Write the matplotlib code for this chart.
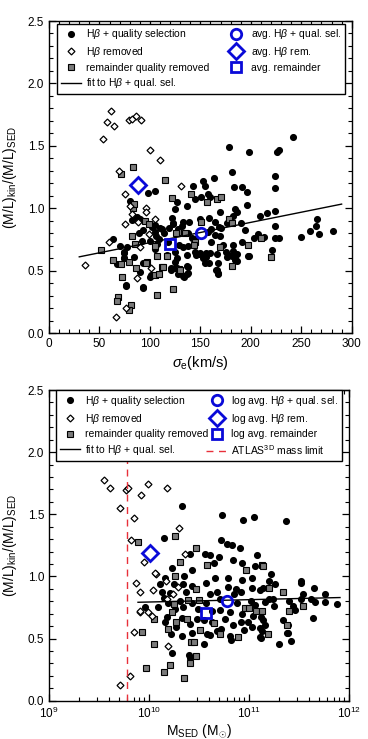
import matplotlib
matplotlib.use('Agg')
from matplotlib import pyplot as plt
from matplotlib.lines import Line2D
from matplotlib.ticker import MultipleLocator, LogLocator, NullFormatter

plt.rcParams['font.family'] = ['Liberation Sans', 'DejaVu Sans']
plt.rcParams['mathtext.fontset'] = 'custom'
plt.rcParams['mathtext.rm'] = 'Liberation Sans'
plt.rcParams['mathtext.it'] = 'Liberation Sans:italic'

# ---- top panel: sigma_e vs M/L ratio ----
top_hb_sig = [98, 105, 80, 81, 63, 70, 77, 74, 74, 67, 76, 93, 100, 89, 92, 100, 105, 90, 100,
              82, 87, 93, 102, 110, 106, 123, 133, 150,
              178, 198, 181, 164, 152.5, 154.5, 142.6, 145, 151, 157.7, 159.7, 183.5, 191.5, 196,
              196.7, 184.8, 186.2, 127.3, 137.2, 124.7, 122, 118.7, 131.9, 139.2, 159, 165, 169.6,
              182.8, 180.8, 170.3, 176.3, 190.2, 194.1, 202.7, 207.3, 198.1, 190.8, 182.2, 182.8,
              186.8, 184.2, 175.6, 176.3, 172.9, 169, 166.3, 166.3, 167.6, 160.4, 155.7, 153.1,
              155.1, 148.5, 144.5, 157.7, 164.4, 169.6, 160.4, 168.4, 137.9, 141.9, 144.5, 137.9,
              132.6, 136.6, 124.7, 124.7, 121.4, 129.3, 133.2, 136.6, 137.9, 128.7, 124.7, 126.7,
              118, 114.1, 112.1, 109.4, 104.9, 107.4, 105.5, 128, 122.7,
              242, 227.5, 226.2, 223.5, 223.5, 223.5, 216.3, 209.6, 224.2, 213, 224.2, 227.5,
              220.9, 250, 258.6, 264.6, 265.9, 267.9, 281.1,
              76.8, 92.7, 74.1, 74.1, 84, 93.3, 90, 100.6, 106.5, 116.5, 121.4, 126.4, 128, 133.6,
              137.9, 136.3, 145.5, 149.5, 156, 158.7, 160, 167.7, 166, 167, 177.6, 184, 186, 181,
              197.4]
top_hb_ml = [1.12, 1.14, 1.06, 1.02, 0.75, 0.70, 0.69, 0.65, 0.60, 0.55, 0.38, 0.36, 0.45, 0.80,
             0.74, 0.74, 0.81, 0.91, 0.87,
             0.905, 0.93, 0.825, 0.85, 0.84, 0.78, 0.88, 0.89, 0.91,
             1.49, 1.45, 1.29, 1.245, 1.22, 1.18, 1.18, 1.074, 1.09, 1.116, 1.09, 1.17, 1.17, 1.127,
             1.026, 0.994, 0.968, 1.047, 1.016, 0.99, 0.919, 0.844, 0.855, 0.89, 0.92, 0.89, 0.968,
             0.935, 0.89, 0.839, 0.88, 0.88, 0.823, 0.764, 0.79, 0.614, 0.731, 0.709, 0.657,
             0.636, 0.588, 0.65, 0.61, 0.709, 0.69, 0.636, 0.507, 0.475, 0.73, 0.645, 0.60,
             0.562, 0.63, 0.65, 0.807, 0.786, 0.775, 0.83, 0.85, 0.80, 0.763, 0.75, 0.70,
             0.69, 0.625, 0.57, 0.518, 0.507, 0.491, 0.454, 0.475, 0.528, 0.705, 0.65, 0.60,
             0.73, 0.80, 0.83, 0.757, 0.866, 0.716, 0.67, 0.83, 0.87,
             1.57, 1.469, 1.453, 1.261, 1.165, 0.978, 0.96, 0.94, 0.855, 0.769, 0.759, 0.764,
             0.668, 0.77, 0.817, 0.855, 0.913, 0.796, 0.817,
             0.385, 0.366, 0.64, 0.60, 0.61, 0.558, 0.49, 0.465, 0.465, 0.625, 0.518, 0.518, 0.47,
             0.451, 0.478, 0.537, 0.625, 0.638, 0.61, 0.558, 0.64, 0.563, 0.505, 0.478, 0.625,
             0.60, 0.58, 0.62, 0.617]

top_rem_sig = [61.9, 57.9, 64.5, 53.3, 79, 82.4, 86.3, 91, 100, 110, 69, 75.8, 80.4, 82.3, 96.3,
               96.3, 75.8, 59.9, 35.4, 87, 76.4, 66.5, 99, 105.5, 88.4, 131, 90, 100.7]
top_rem_ml = [1.78, 1.69, 1.66, 1.555, 1.71, 1.715, 1.74, 1.71, 1.47, 1.384, 1.30, 1.11, 1.02,
              0.95, 1.004, 0.97, 0.876, 0.73, 0.545, 0.443, 0.203, 0.128, 0.79, 0.91, 0.887,
              1.18, 0.69, 0.52]

top_qual_sig = [83, 71.3, 52, 63.9, 71.1, 79.7, 72.5, 86.3, 96.9, 104.9, 68.5, 67.8, 81, 79, 82.4,
                95.6, 85, 107.5, 105, 98.9, 83, 84,
                114.8, 122, 141.2, 157, 166.3, 170.3, 150.5, 128, 126, 135.2, 145.1, 143.8,
                178.3, 181.5, 169.6, 181.5, 197.4, 210.6, 117.4, 128.7, 112.1, 109.4, 123.3,
                106.8, 220.4, 96.6, 112.5, 129.6]
top_qual_ml = [1.33, 1.277, 0.663, 0.588, 0.55, 0.566, 0.449, 0.518, 0.571, 0.465, 0.288, 0.256,
               0.224, 0.182, 0.775, 0.897, 0.71, 0.305, 0.70, 0.87, 1.0, 1.03,
               1.223, 1.085, 1.11, 1.052, 1.07, 1.09, 0.89, 0.813, 0.80, 0.80, 0.73, 0.709,
               0.913, 0.88, 0.69, 0.535, 0.709, 0.764, 0.62, 0.51, 0.528, 0.47, 0.353,
               0.62, 0.605, 0.563, 0.53, 0.505]

top_avg_sig = [150.5, 88.4, 120]      # circle, diamond, square
top_avg_ml = [0.80, 1.186, 0.71]
top_fit_sig = [30, 290]
top_fit_coef = [0.5615, 0.001625]

# ---- bottom panel: log M_SED vs M/L ratio ----
bot_hb_logm = [9.96, 10.233, 10.403, 11.303, 11.38,
               10.327, 10.727, 10.94, 11.047, 10.153, 10.72, 10.78, 10.833, 10.907, 10.407,
               10.56, 10.607, 10.7, 10.84, 11.08, 10.233, 10.427, 10.653, 10.933, 11.06, 10.16,
               10.347, 10.66, 10.787, 10.933, 11.033, 10.107, 10.253, 10.34, 10.433, 10.573,
               10.793, 10.873, 11.033, 11.113, 10.127, 10.213, 10.367, 10.613, 10.68, 10.847,
               10.92, 10.153, 10.193, 10.307, 10.427, 10.567, 10.713, 10.88, 11.02, 11.06,
               10.087, 10.26, 10.34, 10.493, 10.627, 10.713, 10.813, 10.933, 11.04, 11.12, 10.18,
               10.327, 10.48, 10.547, 10.627, 10.76, 10.84, 10.92, 10.993, 11.027, 11.113,
               11.113, 10.16, 10.267, 10.407, 10.22, 10.327, 10.427, 10.547, 10.58, 10.613,
               10.68, 10.72, 10.807, 10.82, 10.953, 10.407,
               11.37, 11.217, 11.203, 11.263, 11.137, 11.197, 11.243, 11.163, 11.25, 11.403,
               11.443, 11.457, 11.517, 11.523, 11.543, 11.523, 11.617, 11.65, 11.663, 11.757,
               11.757, 11.883, 11.643, 11.337, 11.137, 11.157, 11.13, 11.123, 11.39, 11.39,
               11.423]
bot_hb_ml = [0.754, 0.386, 0.368, 0.454, 0.547,
             1.569, 1.494, 1.456, 1.476, 1.311, 1.29, 1.263, 1.25, 1.226, 1.183,
             1.18, 1.17, 1.16, 1.13, 1.17, 1.065, 1.05, 1.11, 1.105, 1.08, 0.99,
             1.0, 0.99, 0.99, 0.97, 0.985, 0.942, 0.94, 0.94, 0.92, 0.95,
             0.912, 0.896, 0.905, 0.89, 0.872, 0.868, 0.872, 0.861, 0.877, 0.861,
             0.877, 0.824, 0.79, 0.80, 0.79, 0.79, 0.82, 0.79, 0.80, 0.77,
             0.754, 0.74, 0.75, 0.74, 0.72, 0.727, 0.717, 0.70, 0.684, 0.673, 0.673,
             0.668, 0.657, 0.647, 0.636, 0.657, 0.609, 0.636, 0.636, 0.593, 0.588,
             0.512, 0.63, 0.593, 0.614, 0.539, 0.523, 0.545, 0.459, 0.536, 0.525,
             0.56, 0.576, 0.518, 0.485, 0.57, 0.34,
             1.446, 1.022, 0.96, 0.936, 0.904, 0.818, 0.818, 0.797, 0.759, 0.80,
             0.764, 0.726, 0.966, 0.95, 0.855, 0.818, 0.818, 0.91, 0.797, 0.855,
             0.797, 0.775, 0.668, 0.646, 0.65, 0.61, 0.56, 0.506, 0.609, 0.545,
             0.48]

bot_rem_logm = [9.553, 9.613, 9.767, 9.793, 9.92, 9.993, 9.707, 9.847, 9.82, 9.947, 10.067,
                9.873, 9.913, 10.04, 9.907, 9.993, 9.847, 9.807, 9.707, 10.18, 10.3, 10.36,
                10.06, 10.173, 10.293, 10.24, 10.18, 10.187, 9.91, 10.027]
bot_rem_ml = [1.778, 1.714, 1.693, 1.71, 1.655, 1.741, 1.553, 1.472, 1.295, 1.118, 1.022,
              0.947, 0.872, 0.887, 0.716, 0.716, 0.55, 0.201, 0.126, 1.709, 1.387, 1.178,
              1.025, 0.963, 0.915, 0.856, 0.82, 0.442, 0.72, 0.68]

bot_qual_logm = [9.893, 9.933, 10.053, 10.047, 9.973, 10.26, 10.473, 10.313, 10.26, 10.58,
                 10.973, 11.133, 10.473, 10.393, 10.247, 10.5, 10.653, 10.507, 10.42, 10.45,
                 10.467, 10.407, 10.207, 10.153, 10.347, 10.893, 10.707, 10.227, 10.273,
                 10.193, 10.38, 10.96, 11.0, 11.067, 11.133, 11.137, 11.203, 11.337, 11.397,
                 11.537, 11.383, 11.19]
bot_qual_ml = [1.279, 0.55, 0.657, 0.454, 0.266, 1.328, 1.226, 1.113, 1.0, 1.09,
               1.054, 1.09, 0.90, 0.813, 0.775, 0.813, 0.625, 0.57, 0.47, 0.47,
               0.357, 0.303, 0.29, 0.228, 0.185, 0.512, 0.539, 0.71, 0.63,
               0.575, 0.66, 0.743, 0.743, 0.72, 0.72, 1.086, 0.91, 0.877, 0.72,
               0.759, 0.609, 0.534]

bot_avg_logm = [10.777, 10.013, 10.567]
bot_avg_ml = [0.805, 1.19, 0.708]
bot_fit_logm = [9.89, 11.91]
bot_fit_ml = [0.792, 0.830]
atlas_limit = 6e9

BLUE = '#0a0ad8'
RED = '#e8303a'
GREY = '#7a7a7a'

sty_hb = dict(marker='o', ms=4.1, mfc='black', mec='black', ls='none')
sty_rem = dict(marker='D', ms=3.5, mfc='white', mec='black', mew=0.9, ls='none')
sty_qual = dict(marker='s', ms=3.7, mfc=GREY, mec='black', mew=0.8, ls='none')
sty_avg = [dict(marker='o', ms=7.5, mfc='none', mec=BLUE, mew=2.0, ls='none'),
           dict(marker='D', ms=8.0, mfc='none', mec=BLUE, mew=2.0, ls='none'),
           dict(marker='s', ms=7.5, mfc='none', mec=BLUE, mew=2.0, ls='none')]


def style_axes(ax):
    ax.tick_params(which='both', direction='in', top=True, right=True, labelsize=8.5)
    ax.tick_params(which='major', length=5, width=0.9)
    ax.tick_params(which='minor', length=2.6, width=0.8)
    for sp in ax.spines.values():
        sp.set_linewidth(1.0)
    ax.set_ylim(0, 2.5)
    ax.yaxis.set_major_locator(MultipleLocator(0.5))
    ax.yaxis.set_minor_locator(MultipleLocator(0.1))
    ax.yaxis.set_major_formatter(matplotlib.ticker.FormatStrFormatter('%.1f'))
    ax.set_ylabel(r'(M/L)$_{\rm kin}$/(M/L)$_{\rm SED}$', fontsize=10)


fig = plt.figure(figsize=(3.68, 7.39), dpi=100)

# top panel
ax1 = fig.add_axes([49 / 368, 1 - 333 / 739, 302.7 / 368, 312 / 739])
ax1.plot(top_hb_sig, top_hb_ml, **sty_hb)
ax1.plot(top_qual_sig, top_qual_ml, **sty_qual)
ax1.plot(top_rem_sig, top_rem_ml, **sty_rem)
fit_y = [top_fit_coef[0] + top_fit_coef[1] * s for s in top_fit_sig]
ax1.plot(top_fit_sig, fit_y, color='black', lw=1.0)
for i in range(3):
    ax1.plot(top_avg_sig[i], top_avg_ml[i], **sty_avg[i])
ax1.set_xlim(0, 300)
ax1.xaxis.set_major_locator(MultipleLocator(50))
ax1.xaxis.set_minor_locator(MultipleLocator(10))
style_axes(ax1)
ax1.yaxis.set_label_coords(-0.098, 0.5)
ax1.set_xlabel(r'$\sigma_{\rm e}$(km/s)', fontsize=10.5, labelpad=3)

h1 = [Line2D([], [], **sty_hb), Line2D([], [], **sty_rem), Line2D([], [], **sty_qual),
      Line2D([], [], color='black', lw=1.0)] + [Line2D([], [], **s) for s in sty_avg]
l1 = [r'H$\beta$ + quality selection', r'H$\beta$ removed', 'remainder quality removed',
      r'fit to H$\beta$ + qual. sel.', r'avg. H$\beta$ + qual. sel.', r'avg. H$\beta$ rem.',
      'avg. remainder']
ax1.legend(h1, l1, ncol=2, loc='lower left', bbox_to_anchor=(0.026, 0.766, 0.952, 0.199),
           mode='expand', fontsize=7.5, frameon=True, fancybox=False, edgecolor='black',
           framealpha=1, handlelength=2.0, handletextpad=0.4, labelspacing=0.35,
           borderpad=0.35, borderaxespad=0, columnspacing=1.0).get_frame().set_linewidth(1.0)

# bottom panel
ax2 = fig.add_axes([49 / 368, 1 - 700.7 / 739, 300 / 368, 310.7 / 739])
ax2.set_xscale('log')
ax2.plot([10 ** v for v in bot_hb_logm], bot_hb_ml, **sty_hb)
ax2.plot([10 ** v for v in bot_qual_logm], bot_qual_ml, **sty_qual)
ax2.plot([10 ** v for v in bot_rem_logm], bot_rem_ml, **sty_rem)
ax2.plot([10 ** v for v in bot_fit_logm], bot_fit_ml, color='black', lw=1.0)
ax2.plot([atlas_limit, atlas_limit], [0, 2.5], color=RED, lw=1.0, ls=(0, (5, 4)))
for i in range(3):
    ax2.plot(10 ** bot_avg_logm[i], bot_avg_ml[i], **sty_avg[i])
ax2.set_xlim(1e9, 1e12)
ax2.xaxis.set_major_locator(LogLocator(base=10))
ax2.xaxis.set_minor_locator(LogLocator(base=10, subs=range(2, 10)))
ax2.xaxis.set_minor_formatter(NullFormatter())
style_axes(ax2)
ax2.yaxis.set_label_coords(-0.099, 0.5)
ax2.set_xlabel(r'M$_{\rm SED}$ (M$_{\odot}$)', fontsize=10, labelpad=1)

h2 = [Line2D([], [], **sty_hb), Line2D([], [], **sty_rem), Line2D([], [], **sty_qual),
      Line2D([], [], color='black', lw=1.0)] + [Line2D([], [], **s) for s in sty_avg] + \
     [Line2D([], [], color=RED, lw=1.0, ls=(0, (5, 4)))]
l2 = [r'H$\beta$ + quality selection', r'H$\beta$ removed', 'remainder quality removed',
      r'fit to H$\beta$ + qual. sel.', r'log avg. H$\beta$ + qual. sel.',
      r'log avg. H$\beta$ rem.', 'log avg. remainder', r'ATLAS$^{\rm 3D}$ mass limit']
ax2.legend(h2, l2, ncol=2, loc='lower left', bbox_to_anchor=(0.023, 0.7725, 0.954, 0.1875),
           mode='expand', fontsize=7.5, frameon=True, fancybox=False, edgecolor='black',
           framealpha=1, handlelength=2.0, handletextpad=0.4, labelspacing=0.35,
           borderpad=0.35, borderaxespad=0, columnspacing=1.0).get_frame().set_linewidth(1.0)

fig.savefig('out.png', dpi=100)
